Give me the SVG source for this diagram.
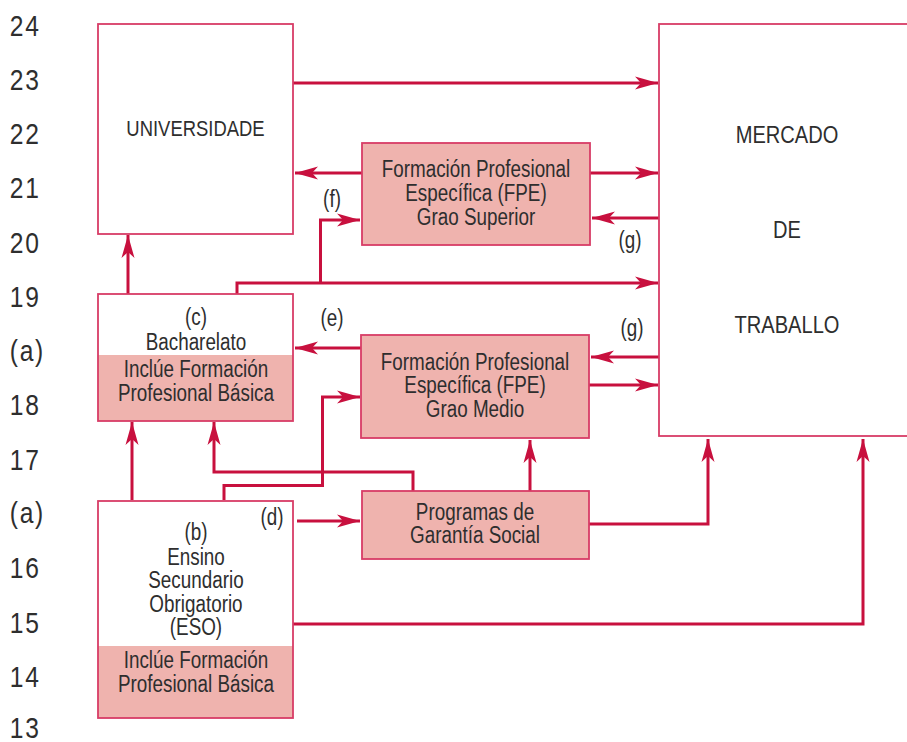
<svg xmlns="http://www.w3.org/2000/svg" width="907" height="742" viewBox="0 0 907 742">
<defs>
<marker id="ah" markerUnits="userSpaceOnUse" markerWidth="24" markerHeight="14" viewBox="-23 -7 24 14" refX="0" refY="0" orient="auto">
<path d="M-23,-6.5 L0,0 L-23,6.5 L-17,0 Z" fill="#c8103e"/>
</marker>
</defs>
<style>
text{font-family:"Liberation Sans",Arial,sans-serif;fill:#2e2e2e;text-anchor:middle;}
.num{font-size:30px;text-anchor:start;letter-spacing:2px;}
.t{font-size:23px;}
.u{font-size:22.5px;}
.big{font-size:24.5px;}
.box{fill:#ffffff;stroke:#d83c66;stroke-width:1.8;}
.pink{fill:#efb3ae;stroke:#d83c66;stroke-width:1.8;}
.pinkfill{fill:#efb3ae;stroke:none;}
.c{fill:none;stroke:#c8103e;stroke-width:3;stroke-linejoin:miter;}
.a{marker-end:url(#ah);}
</style>
<rect width="907" height="742" fill="#ffffff"/>
<g id="scale" transform="scale(0.82,1)">
<text class="num" x="12" y="36">24</text>
<text class="num" x="12" y="90">23</text>
<text class="num" x="12" y="144">22</text>
<text class="num" x="12" y="198">21</text>
<text class="num" x="12" y="253">20</text>
<text class="num" x="12" y="307">19</text>
<text class="num" x="12" y="361">(a)</text>
<text class="num" x="12" y="415">18</text>
<text class="num" x="12" y="470">17</text>
<text class="num" x="12" y="523">(a)</text>
<text class="num" x="12" y="578">16</text>
<text class="num" x="12" y="633">15</text>
<text class="num" x="12" y="687">14</text>
<text class="num" x="12" y="738">13</text>
</g>
<g id="connectors">
<polyline class="c a" points="293,83 658,83"/>
<polyline class="c a" points="362,173 295,173"/>
<polyline class="c a" points="590,173 658,173"/>
<polyline class="c a" points="659,218 592,218"/>
<polyline class="c a" points="128,294 128,235"/>
<polyline class="c a" points="237,294 237,283 658,283"/>
<polyline class="c a" points="320.5,283 320.5,220 360,220"/>
<polyline class="c a" points="361,348 295,348"/>
<polyline class="c a" points="659,357 591,357"/>
<polyline class="c a" points="589,385 658,385"/>
<polyline class="c a" points="132,500 132,422"/>
<polyline class="c a" points="224,500 224,485.5 322.5,485.5 322.5,397 360,397"/>
<polyline class="c a" points="413,491 413,472 214,472 214,422"/>
<polyline class="c a" points="530,491 530,440"/>
<polyline class="c a" points="297,521 360,521"/>
<polyline class="c a" points="589,524 708,524 708,439"/>
<polyline class="c a" points="293,624 863,624 863,439"/>
</g>
<g id="universidade">
<rect class="box" x="98" y="24" width="195" height="210"/>
<g transform="scale(0.82,1)">
<text class="u" x="238.4" y="136">UNIVERSIDADE</text>
</g>
</g>
<g id="mercado">
<rect class="box" x="659" y="24" width="260" height="412"/>
<g transform="scale(0.82,1)">
<text class="big" x="959.8" y="143">MERCADO</text>
<text class="big" x="959.8" y="238">DE</text>
<text class="big" x="959.8" y="333">TRABALLO</text>
</g>
</g>
<g id="fpe-superior">
<rect class="pink" x="362" y="143" width="228" height="102"/>
<g transform="scale(0.82,1)">
<text class="t" x="580.5" y="177">Formación Profesional</text>
<text class="t" x="580.5" y="201.5">Específica (FPE)</text>
<text class="t" x="580.5" y="225">Grao Superior</text>
</g>
</g>
<g id="fpe-medio">
<rect class="pink" x="361" y="335" width="228" height="103"/>
<g transform="scale(0.82,1)">
<text class="t" x="579.3" y="370">Formación Profesional</text>
<text class="t" x="579.3" y="393.5">Específica (FPE)</text>
<text class="t" x="579.3" y="417">Grao Medio</text>
</g>
</g>
<g id="programas">
<rect class="pink" x="362" y="491" width="227" height="68"/>
<g transform="scale(0.82,1)">
<text class="t" x="579.3" y="520">Programas de</text>
<text class="t" x="579.3" y="543.5">Garantía Social</text>
</g>
</g>
<g id="bacharelato">
<rect class="pinkfill" x="98" y="355" width="195" height="66"/>
<rect class="box" x="98" y="294" width="195" height="127" style="fill:none"/>
<g transform="scale(0.82,1)">
<text class="t" x="239" y="325">(c)</text>
<text class="t" x="239" y="350">Bacharelato</text>
<text class="t" x="239" y="377">Inclúe Formación</text>
<text class="t" x="239" y="401">Profesional Básica</text>
</g>
</g>
<g id="eso">
<rect class="pinkfill" x="98" y="646" width="195" height="72"/>
<rect class="box" x="98" y="501" width="195" height="217" style="fill:none"/>
<g transform="scale(0.82,1)">
<text class="t" x="239" y="540">(b)</text>
<text class="t" x="239" y="565">Ensino</text>
<text class="t" x="239" y="588.5">Secundario</text>
<text class="t" x="239" y="612">Obrigatorio</text>
<text class="t" x="239" y="635.5">(ESO)</text>
<text class="t" x="239" y="668.5">Inclúe Formación</text>
<text class="t" x="239" y="692.5">Profesional Básica</text>
</g>
</g>
<g id="labels" transform="scale(0.82,1)">
<text class="t" x="404.9" y="207.5">(f)</text>
<text class="t" x="768.3" y="248">(g)</text>
<text class="t" x="404.9" y="326">(e)</text>
<text class="t" x="770.7" y="336.5">(g)</text>
<text class="t" x="331.7" y="525">(d)</text>
</g>
</svg>
